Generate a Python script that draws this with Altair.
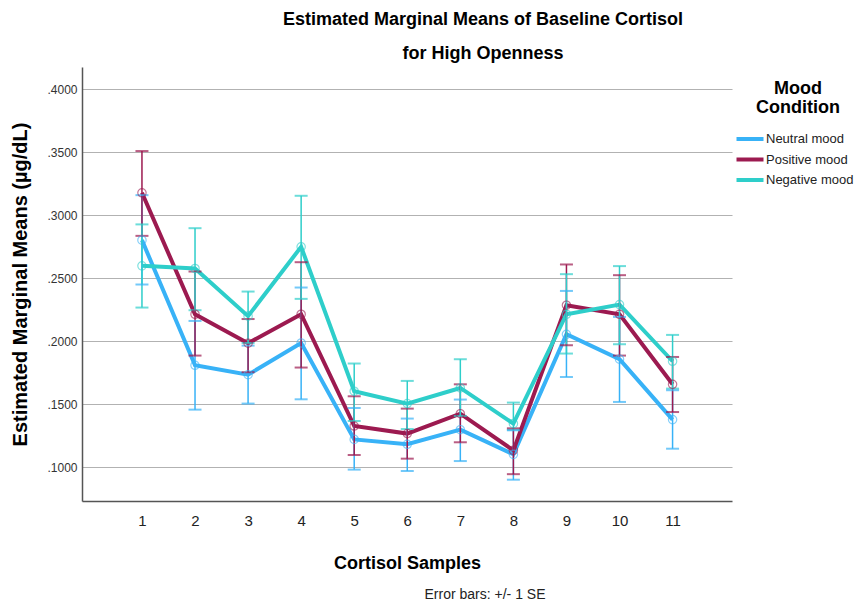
import altair as alt
import pandas as pd

samples = [1, 2, 3, 4, 5, 6, 7, 8, 9, 10, 11]
moods = ["Neutral mood", "Positive mood", "Negative mood"]
colors = ["#38B2F7", "#9C1A50", "#2ECECA"]

neutral_mean = [0.2803, 0.1810, 0.1735, 0.1987, 0.1222, 0.1183, 0.1299, 0.1103, 0.2056, 0.1858, 0.1379]
neutral_lo = [0.2451, 0.1458, 0.1506, 0.1540, 0.0982, 0.0971, 0.1050, 0.0902, 0.1717, 0.1519, 0.1148]
neutral_hi = [0.3160, 0.2162, 0.1966, 0.2427, 0.1471, 0.1387, 0.1538, 0.1294, 0.2400, 0.2194, 0.1612]

positive_mean = [0.3179, 0.2215, 0.1985, 0.2215, 0.1328, 0.1268, 0.1426, 0.1135, 0.2287, 0.2215, 0.1659]
positive_lo = [0.2837, 0.1887, 0.1755, 0.1792, 0.1098, 0.1069, 0.1199, 0.0946, 0.1969, 0.1887, 0.1439]
positive_hi = [0.3510, 0.2554, 0.2177, 0.2628, 0.1564, 0.1466, 0.1659, 0.1310, 0.2610, 0.2525, 0.1876]

negative_mean = [0.2599, 0.2578, 0.2200, 0.2750, 0.1604, 0.1506, 0.1630, 0.1347, 0.2215, 0.2292, 0.1842]
negative_lo = [0.2268, 0.2247, 0.1987, 0.2337, 0.1368, 0.1304, 0.1408, 0.1299, 0.1903, 0.1977, 0.1625]
negative_hi = [0.2928, 0.2898, 0.2395, 0.3155, 0.1824, 0.1686, 0.1858, 0.1514, 0.2533, 0.2597, 0.2051]

y_ticks = [0.10, 0.15, 0.20, 0.25, 0.30, 0.35, 0.40]

rows = []
for mood, m, lo, hi in [
    (moods[0], neutral_mean, neutral_lo, neutral_hi),
    (moods[1], positive_mean, positive_lo, positive_hi),
    (moods[2], negative_mean, negative_lo, negative_hi),
]:
    for i, s in enumerate(samples):
        rows.append({"sample": s, "mood": mood,
                     "mean": m[i], "lo": lo[i], "hi": hi[i]})
df = pd.DataFrame(rows)

FONT = "Liberation Sans"

x_scale = alt.Scale(domain=[-0.13, 12.12], nice=False, zero=False)
x_enc = alt.X(
    "sample:Q", scale=x_scale,
    axis=alt.Axis(title="Cortisol Samples", values=samples, format="d",
                  labelAngle=0, labelFontSize=15,
                  labelColor="#222222", labelPadding=12, ticks=False,
                  domainColor="#555555", domainWidth=1.5, grid=False,
                  titleFontSize=18, titleFontWeight="bold", titlePadding=26,
                  titleColor="#000000", labelFont=FONT, titleFont=FONT,
                  labelFlush=False, labelOverlap=False),
)
x_plain = alt.X("sample:Q", scale=x_scale)

y_scale = alt.Scale(domain=[0.0733, 0.4177], nice=False, zero=False)
y_axis = alt.Axis(title="Estimated Marginal Means (µg/dL)", values=y_ticks,
                  labelExpr="substring(format(datum.value, '.4f'), 1)",
                  labelFontSize=12, labelColor="#333333", labelPadding=5,
                  ticks=False, domainColor="#555555", domainWidth=1.5,
                  grid=True, gridColor="#b2b2b2", gridWidth=1.2,
                  titleFontSize=20, titleFontWeight="bold", titlePadding=16,
                  titleColor="#000000", labelFont=FONT, titleFont=FONT)

color_enc = alt.Color(
    "mood:N", sort=moods,
    scale=alt.Scale(domain=moods, range=colors),
    legend=alt.Legend(title=["Mood", "Condition"], orient="none",
                      legendX=661, legendY=13, symbolType="M-2.7,0H2.7",
                      symbolStrokeWidth=4, symbolSize=100,
                      titleFontSize=18, titleFontWeight="bold",
                      titleLineHeight=19, titleAnchor="middle", titleAlign="center",
                      titlePadding=15, labelFontSize=13, labelColor="#222222",
                      rowPadding=4.5, labelOffset=9, titleFont=FONT, labelFont=FONT,
                      titleColor="#000000"),
)

base = alt.Chart(df)

lines = base.mark_line(strokeWidth=4).encode(
    x=x_enc,
    y=alt.Y("mean:Q", scale=y_scale, axis=y_axis),
    color=color_enc,
    detail="mood:N",
    order=alt.Order("sample:Q"),
)

rules = base.mark_rule(strokeWidth=1.5).encode(
    x=x_plain,
    y=alt.Y("lo:Q", scale=y_scale),
    y2="hi:Q",
    color=alt.Color("mood:N", legend=None),
)
caps_lo = base.mark_tick(size=13, thickness=2, orient="horizontal").encode(
    x=x_plain,
    y=alt.Y("lo:Q", scale=y_scale),
    color=alt.Color("mood:N", legend=None),
)
caps_hi = base.mark_tick(size=13, thickness=2, orient="horizontal").encode(
    x=x_plain,
    y=alt.Y("hi:Q", scale=y_scale),
    color=alt.Color("mood:N", legend=None),
)
points = base.mark_point(filled=False, size=70, strokeWidth=1.2, opacity=0.6).encode(
    x=x_plain,
    y=alt.Y("mean:Q", scale=y_scale),
    color=alt.Color("mood:N", legend=None),
)

note = alt.Chart(pd.DataFrame({"t": ["Error bars: +/- 1 SE"]})).mark_text(
    fontSize=14, font=FONT, color="#222222", align="center", baseline="alphabetic"
).encode(text="t:N", x=alt.value(403), y=alt.value(532))

chart = alt.layer(lines, rules, caps_lo, caps_hi, points, note).properties(
    width=650, height=434,
    background="white",
    autosize=alt.AutoSizeParams(type="none"),
    padding={"left": 74, "top": 59, "right": 126, "bottom": 103},
    title=alt.TitleParams(
        text=["Estimated Marginal Means of Baseline Cortisol", "for High Openness"],
        fontSize=18, fontWeight="bold", font=FONT, lineHeight=34,
        anchor="middle", dx=76, offset=4, color="#000000",
    ),
).configure_view(stroke=None, strokeWidth=0)

chart.save("out.html", embed_options={"renderer": "svg", "actions": False})
